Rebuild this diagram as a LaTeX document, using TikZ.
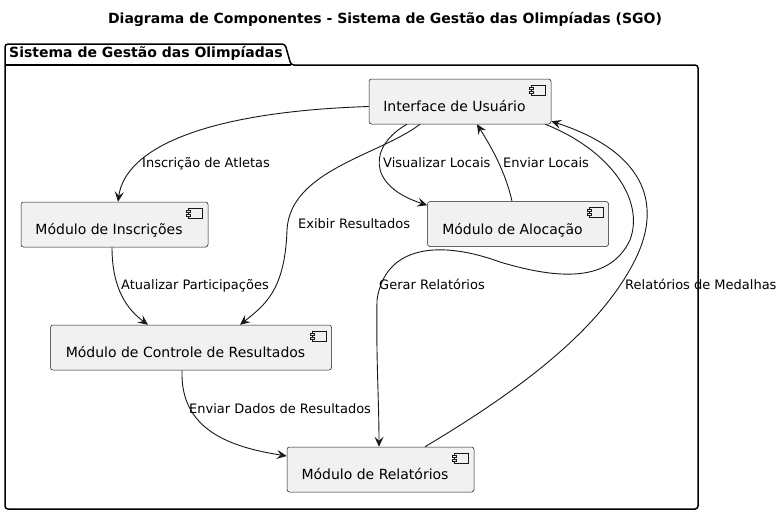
\documentclass[tikz,border=0pt]{standalone}
\usepackage{fontspec}
\setmainfont{DejaVu Sans}
\usetikzlibrary{arrows.meta, calc, positioning}
\definecolor{compfill}{HTML}{F1F1F1}
\definecolor{compline}{HTML}{181818}

\begin{document}
\begin{tikzpicture}[x=1pt, y=-1pt,
		comp/.style={draw=compline, fill=compfill, line width=0.5pt, rounded corners=2.5pt, minimum height=45pt,
			text height=20pt, text depth=0pt, inner sep=2pt, font=\fontsize{14}{16}\selectfont,
			execute at end node={\hspace*{11pt}}},
		lbl/.style={anchor=base west, inner sep=0pt, font=\fontsize{13}{15}\selectfont},
		link/.style={->, draw=compline, line width=0.9pt},
		>={Stealth[length=10pt, width=9pt, inset=4pt]}]
			\fill[white] (0,0) rectangle (783,515);
			% titles and package
			\node[anchor=base, font=\bfseries\fontsize{14}{16}\selectfont] (title) at (385,23) {Diagrama de Componentes - Sistema de Gestão das Olimpíadas (SGO)};
			\draw[line width=1.5pt, rounded corners=3pt] (5,65) -- (5,44) -- (285,44) -- (291,65) -- (698,65) -- (698,509) -- (5,509) -- cycle;
			\draw[line width=1.5pt] (5,65) -- (291,65);
			\node[anchor=base west, inner sep=0pt, font=\bfseries\fontsize{14}{16}\selectfont] (pkg) at (9,57) {Sistema de Gestão das Olimpíadas};
			% components
			\node[comp, minimum width=182pt] (ui)   at (460,101.5) {Interface de Usuário};
			\node[comp, minimum width=187pt] (ins)  at (114.5,224.5) {Módulo de Inscrições};
			\node[comp, minimum width=181pt] (aloc) at (518,224) {Módulo de Alocação};
			\node[comp, minimum width=281pt] (ctrl) at (191,347.5) {Módulo de Controle de Resultados};
			\node[comp, minimum width=187pt] (rel)  at (380.5,469.5) {Módulo de Relatórios};
			\foreach \c in {ui, ins, aloc, ctrl, rel} {
				\draw[compline, fill=compfill, line width=0.5pt] ($(\c.north east)+(-20,6)$) rectangle +(14,10);
				\draw[compline, fill=compfill, line width=0.5pt] ($(\c.north east)+(-22,8)$) rectangle +(4,2);
				\draw[compline, fill=compfill, line width=0.5pt] ($(\c.north east)+(-22,12)$) rectangle +(4,2);
			}
			% connectors
			\draw[link] ($(ui.west)+(0,5)$) .. controls (200,112) and (125,150) .. ($(ins.north)+(3.5,0)$);
			\draw[link] ($(ui.south)+(-40,0)$) .. controls (380,155) and (290,170) .. (287,230)
				.. controls (285,290) and (265,305) .. ($(ctrl.north)+(49,0)$);
			\draw[link] ($(ui.south)+(-53,0)$) .. controls (370,145) and (365,185) .. ($(aloc.north west)+(0,4)$);
			\draw[link] ($(aloc.north)+(-6,0)$) .. controls (505,170) and (490,145) .. ($(ui.south)+(17,0)$);
			\draw[link] ($(ui.south east)+(-6,0)$) .. controls (610,150) and (645,200) .. (630,240)
				.. controls (610,282) and (560,280) .. (500,262)
				.. controls (440,240) and (385,245) .. (377,300)
				.. controls (376,360) and (379,400) .. ($(rel.north)+(-1.5,0)$);
			\draw[link] ($(rel.north)+(44.5,0)$) .. controls (520,390) and (600,330) .. (635,260)
				.. controls (665,200) and (640,150) .. ($(ui.south east)+(0,-3)$);
			\draw[link] ($(ins.south)+(-2.5,0)$) .. controls (112,290) and (128,310) .. ($(ctrl.north)+(-43,0)$);
			\draw[link] ($(ctrl.south)+(-9,0)$) .. controls (180,430) and (230,447) .. ($(rel.west)+(0,-13.5)$);
			% connector labels
			\node[lbl] (tIns) at (142,167) {Inscrição de Atletas};
			\node[lbl] (tVis) at (383,167) {Visualizar Locais};
			\node[lbl] (tEnv) at (503,167) {Enviar Locais};
			\node[lbl] (tExi) at (298,228) {Exibir Resultados};
			\node[lbl] (tAtu) at (121,289) {Atualizar Participações};
			\node[lbl] (tGer) at (379,289) {Gerar Relatórios};
			\node[lbl] (tMed) at (625,289) {Relatórios de Medalhas};
			\node[lbl] (tDad) at (189,413) {Enviar Dados de Resultados};
\end{tikzpicture}
\end{document}
